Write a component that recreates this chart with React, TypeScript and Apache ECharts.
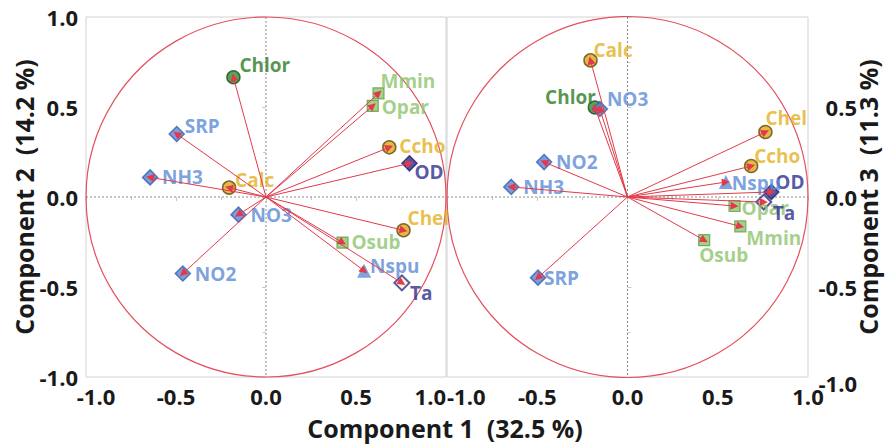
import React, { useEffect, useRef } from 'react';
import * as echarts from 'echarts';

// Variables (loadings)
const names = ['Chlor', 'Mmin', 'Opar', 'SRP', 'Ccho', 'OD', 'NH3', 'Calc', 'NO3', 'Chel', 'Osub', 'Nspu', 'NO2', 'Ta'];
const comp1 = [-0.181, 0.625, 0.593, -0.496, 0.685, 0.797, -0.644, -0.205, -0.153, 0.764, 0.425, 0.545, -0.462, 0.755];
const comp2 = [0.665, 0.576, 0.506, 0.35, 0.276, 0.187, 0.109, 0.052, -0.098, -0.185, -0.253, -0.41, -0.425, -0.477];
const comp3 = [0.497, -0.163, -0.05, -0.448, 0.172, 0.028, 0.056, 0.759, 0.489, 0.361, -0.24, 0.083, 0.194, -0.028];
const groups = ['chlor', 'green', 'green', 'blue', 'gold', 'od', 'blue', 'gold', 'blue', 'gold', 'green', 'nspu', 'blue', 'ta'];

const axisTitleX = 'Component 1  (32.5 %)';
const axisTitleY2 = 'Component 2  (14.2 %)';
const axisTitleY3 = 'Component 3  (11.3 %)';

const FONT = "'Open Sans', 'Noto Sans', sans-serif";

const markerStyles: Record<string, any> = {
  blue: { symbol: 'diamond', size: 15, fill: '#5a86d6', stroke: '#3b5fae', lw: 1.5, text: '#5a8ad6', weight: 'bold' },
  od: { symbol: 'diamond', size: 15, fill: '#2c2c8e', stroke: '#20206e', lw: 1.5, text: '#2c2c8e', weight: 'bold' },
  ta: { symbol: 'diamond', size: 15, fill: '#fff6dc', stroke: '#2c2c8e', lw: 2, text: '#2c2c8e', weight: 'bold' },
  gold: { symbol: 'circle', size: 13, fill: '#e0a817', stroke: '#5e4a12', lw: 1.5, text: '#e2b020', weight: 'bold' },
  chlor: { symbol: 'circle', size: 13, fill: '#2f8d2f', stroke: '#1b531b', lw: 1.5, text: '#2a7a22', weight: 'bold' },
  green: { symbol: 'rect', size: 11, fill: '#8dc46b', stroke: '#5e9e44', lw: 1.2, text: '#8dc46b', weight: 'bold' },
  nspu: { symbol: 'triangle', size: 14, fill: '#5b8fd6', stroke: '#5b8fd6', lw: 0, text: '#5a8ad6', weight: 'bold' },
};

// label placement: [dx of text anchor, dy of text middle, align]
const leftOff: Record<string, any[]> = {
  Chlor: [6, -12], Mmin: [2, -12], Opar: [9, 1], SRP: [8, -8], Ccho: [10, -1], OD: [5, 9], NH3: [12, 0],
  Calc: [6, -8], NO3: [12, 0], Chel: [4, -12], Osub: [9, -1], Nspu: [6, -5], NO2: [12, 0], Ta: [8, 10],
};
const rightOff: Record<string, any[]> = {
  Calc: [3, -10], Chlor: [1, -11, 'right'], NO3: [7, -10], Chel: [0, -14], NO2: [12, 0], Ccho: [3, -10],
  Nspu: [6, 1], NH3: [12, 0], OD: [4, -10], Ta: [9, 11], Opar: [7, 2], Mmin: [6, 12], Osub: [-5, 15], SRP: [6, 0],
};

const TICK_FS = 22;
const TITLE_FS = 25;
const LABEL_FS = 19;

function scatterData(ys: number[], offs: Record<string, any[]>) {
  return names.map((n, i) => {
    const s = markerStyles[groups[i]];
    const o = offs[n];
    return {
      name: n,
      value: [comp1[i], ys[i]],
      symbol: s.symbol,
      symbolSize: s.size,
      itemStyle: { color: s.fill, borderColor: s.stroke, borderWidth: s.lw },
      label: {
        show: true,
        position: 'inside',
        offset: [o[0], o[1]],
        align: o[2] || 'left',
        verticalAlign: 'middle',
        formatter: n,
        color: s.text,
        fontWeight: s.weight,
        fontSize: LABEL_FS,
        fontFamily: FONT,
      },
    };
  });
}

function arrowData(ys: number[]) {
  return names.map((n, i) => ({ coords: [[0, 0], [comp1[i], ys[i]]] }));
}

const guideRender = (params: any, api: any) => {
  const cs = params.coordSys;
  const o = api.coord([0, 0]);
  const r = api.size([1, 1])[0];
  const dash = { stroke: '#8a8a8a', lineWidth: 1, lineDash: [2, 2] };
  return {
    type: 'group',
    children: [
      { type: 'line', shape: { x1: cs.x, y1: o[1], x2: cs.x + cs.width, y2: o[1] }, style: dash },
      { type: 'line', shape: { x1: o[0], y1: cs.y, x2: o[0], y2: cs.y + cs.height }, style: dash },
      { type: 'circle', shape: { cx: o[0], cy: o[1], r }, style: { fill: 'none', stroke: '#e4505e', lineWidth: 1.2 } },
    ],
  };
};

const tickLabel = { fontSize: TICK_FS, fontWeight: 'bold', color: '#1a1a1a', fontFamily: FONT };

function xAxisCfg(gridIndex: number) {
  return {
    type: 'value', gridIndex, min: -1, max: 1, interval: 0.5,
    axisLine: { show: false }, splitLine: { show: false },
    axisTick: { show: true, length: 4, lineStyle: { color: '#c8c8c8' } },
    minorTick: { show: true, splitNumber: 2, length: 3, lineStyle: { color: '#c8c8c8' } },
    axisLabel: gridIndex === 0
      ? {
          ...tickLabel,
          margin: 8,
          alignMaxLabel: 'right',
          formatter: (v: number) => (v === -1 ? '{mn|-1.0}' : v.toFixed(1)),
          rich: { mn: { ...tickLabel, padding: [0, 0, 0, 20] } },
        }
      : {
          ...tickLabel,
          margin: 8,
          alignMinLabel: 'left',
          formatter: (v: number) => v.toFixed(1),
        },
  };
}

function yAxisCfg(gridIndex: number) {
  const right = gridIndex === 1;
  return {
    type: 'value', gridIndex, min: -1, max: 1, interval: 0.5,
    position: right ? 'right' : 'left',
    axisLine: { show: false }, splitLine: { show: false },
    axisTick: { show: true, length: 4, lineStyle: { color: '#c8c8c8' } },
    minorTick: { show: true, splitNumber: 2, length: 3, lineStyle: { color: '#c8c8c8' } },
    name: right ? axisTitleY3 : axisTitleY2,
    nameLocation: 'middle',
    nameRotate: 90,
    nameMoveOverlap: false,
    nameGap: right ? 47 : 50,
    nameTextStyle: { fontSize: TITLE_FS, fontWeight: 'bold', color: '#1a1a1a', fontFamily: FONT },
    axisLabel: right
      ? {
          ...tickLabel, align: 'right', margin: 49, showMaxLabel: false,
          formatter: (v: number) => (v === 1 ? '' : v === -1 ? '{mn|-1.0}' : v.toFixed(1)),
          rich: { mn: { ...tickLabel, padding: [12, 0, 0, 0] } },
        }
      : { ...tickLabel, margin: 8, formatter: (v: number) => v.toFixed(1) },
  };
}

export default function App() {
  const ref = useRef<HTMLDivElement>(null);
  useEffect(() => {
    if (!ref.current) return;
    const chart = echarts.init(ref.current, undefined, { renderer: 'svg' });
    const arrowLine = { color: '#e23a4a', width: 1, opacity: 1 };
    chart.setOption({
      animation: false,
      backgroundColor: '#ffffff',
      grid: [
        { left: 86, top: 17, width: 360, height: 360, show: true, borderColor: '#d2d2d2', borderWidth: 1 },
        { left: 447, top: 17, width: 361, height: 360, show: true, borderColor: '#d2d2d2', borderWidth: 1 },
      ],
      xAxis: [xAxisCfg(0), xAxisCfg(1)],
      yAxis: [yAxisCfg(0), yAxisCfg(1)],
      graphic: [
        {
          type: 'text', x: 445, y: 428,
          style: { text: axisTitleX, fontSize: TITLE_FS, fontWeight: 'bold', fill: '#1a1a1a', fontFamily: FONT, align: 'center', verticalAlign: 'middle' },
        },
      ],
      series: [
        { type: 'custom', xAxisIndex: 0, yAxisIndex: 0, data: [[0, 0]], renderItem: guideRender, silent: true, z: 1 },
        { type: 'custom', xAxisIndex: 1, yAxisIndex: 1, data: [[0, 0]], renderItem: guideRender, silent: true, z: 1 },
        { type: 'scatter', xAxisIndex: 0, yAxisIndex: 0, data: scatterData(comp2, leftOff), z: 2 },
        { type: 'scatter', xAxisIndex: 1, yAxisIndex: 1, data: scatterData(comp3, rightOff), z: 2 },
        {
          type: 'lines', coordinateSystem: 'cartesian2d', xAxisIndex: 0, yAxisIndex: 0, z: 3,
          symbol: ['none', 'triangle'], symbolSize: 8, lineStyle: arrowLine, itemStyle: { color: '#e8283a' },
          data: arrowData(comp2),
        },
        {
          type: 'lines', coordinateSystem: 'cartesian2d', xAxisIndex: 1, yAxisIndex: 1, z: 3,
          symbol: ['none', 'triangle'], symbolSize: 8, lineStyle: arrowLine, itemStyle: { color: '#e8283a' },
          data: arrowData(comp3),
        },
      ],
    });
    return () => chart.dispose();
  }, []);
  return <div ref={ref} style={{ position: 'fixed', left: 0, top: 0, width: 886, height: 445, background: '#fff' }} />;
}
